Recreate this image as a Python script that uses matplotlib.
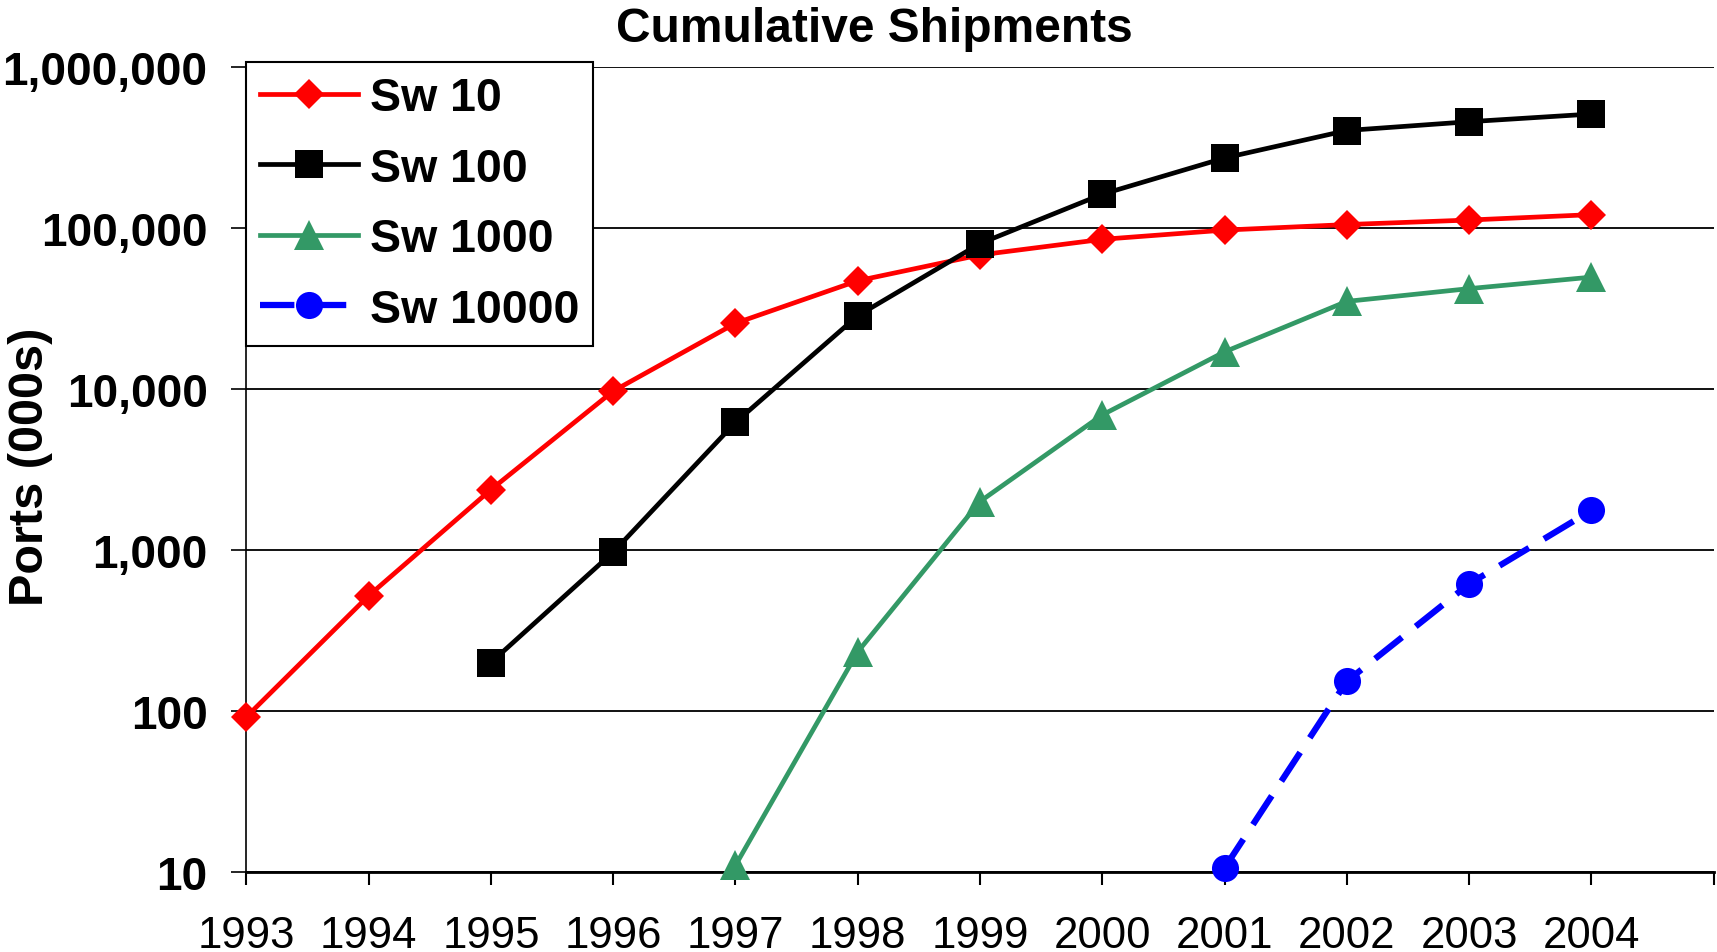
import numpy as np
import matplotlib
matplotlib.use("Agg")
import matplotlib.pyplot as plt
from matplotlib.ticker import FixedLocator, FuncFormatter, NullLocator

# ---- data ----
years = [1993, 1994, 1995, 1996, 1997, 1998, 1999, 2000, 2001, 2002, 2003, 2004]
nan = np.nan
sw10 = [92, 520, 2370, 9700, 25600, 47000, 68000, 85000, 97000, 105000, 112000, 121000]
sw100 = [nan, nan, 200, 970, 6200, 28500, 80000, 162000, 272000, 403000, 457000, 510000]
sw1000 = [nan, nan, nan, nan, 11, 233, 2000, 6900, 17000, 35000, 42000, 49500]
sw10000 = [nan, nan, nan, nan, nan, nan, nan, nan, 10.6, 153, 615, 1760]
series_names = ["Sw 10", "Sw 100", "Sw 1000", "Sw 10000"]
y_ticks = [10, 100, 1000, 10000, 100000, 1000000]
title = "Cumulative Shipments"
ylabel = "Ports (000s)"

plt.rcParams['font.family'] = ['Liberation Sans', 'DejaVu Sans']

fig = plt.figure(figsize=(17.17, 9.53), dpi=100)
ax = fig.add_axes([0.1435, 0.0839, 0.998 - 0.1435, 0.9287 - 0.0839])

styles = [
    dict(color='#FF0000', marker='D', markersize=15, lw=3.4, ls='-'),
    dict(color='#000000', marker='s', markersize=20, lw=3.4, ls='-'),
    dict(color='#339966', marker='^', markersize=21.5, lw=3.4, ls='-'),
    dict(color='#0000FF', marker='o', markersize=19.5, lw=4.5, ls=(0, (5.5, 2.8))),
]
data = [sw10, sw100, sw1000, sw10000]
handles = []
for vals, name, st in zip(data, series_names, styles):
    h, = ax.plot(years, vals, color=st['color'], marker=st['marker'],
                 markersize=st['markersize'], markeredgewidth=0,
                 linewidth=st['lw'], linestyle=st['ls'], label=name,
                 clip_on=False, zorder=3)
    handles.append(h)

ax.set_yscale('log')
ax.set_ylim(10, 1000000)
ax.set_xlim(1993, 2005)

ax.yaxis.set_major_locator(FixedLocator(y_ticks))
ax.yaxis.set_minor_locator(NullLocator())
ax.yaxis.set_major_formatter(FuncFormatter(lambda v, p: f"{int(round(v)):,}"))

ax.xaxis.set_major_locator(FixedLocator(years + [2005]))
ax.xaxis.set_major_formatter(FuncFormatter(lambda v, p: str(int(round(v))) if int(round(v)) in years else ""))

ax.tick_params(axis='y', which='major', length=11, width=1.2, pad=17, labelsize=33, direction='out')
ax.tick_params(axis='x', which='major', length=9, width=1.5, pad=22, labelsize=31.5, direction='out')
for lab in ax.get_yticklabels():
    lab.set_fontweight('bold')

ax.grid(axis='y', which='major', color='#111111', linewidth=1.4, zorder=1)
ax.set_axisbelow(True)
for s in ['top', 'right']:
    ax.spines[s].set_visible(False)
ax.spines['left'].set_linewidth(1.2)
ax.spines['bottom'].set_linewidth(2.0)

fig.text(0.509, 0.956, title, ha='center', va='baseline', fontsize=34.5, fontweight='bold')
fig.text(0.018, 0.51, ylabel, ha='center', va='center', rotation=90, fontsize=35, fontweight='bold')

leg = ax.legend(handles=handles, loc='upper left', bbox_to_anchor=(0.0, 1.006),
                borderaxespad=0, fancybox=False, framealpha=1, edgecolor='black',
                prop=dict(size=33.5, weight='bold'), handlelength=2.1, handletextpad=0.25,
                labelspacing=0.57, borderpad=0.3, numpoints=1)
leg.get_frame().set_linewidth(1.5)
leg.set_zorder(5)

fig.savefig('out.png', dpi=100)
